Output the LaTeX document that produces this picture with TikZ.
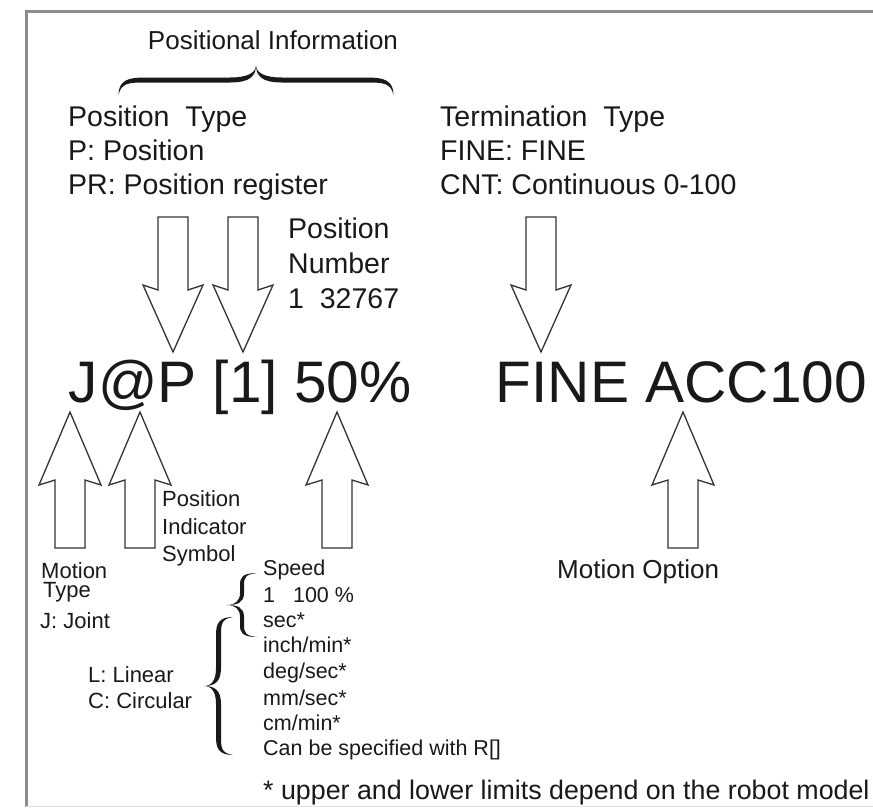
\documentclass[tikz,border=0pt]{standalone}
\usepackage{fontspec}
\setmainfont{Liberation Sans}
% calligraphic brace, tip pointing left in local coords; #1 scope options, #2 width, #3 height, #4 thickness, #5 hook length
\newcommand{\calbrace}[5]{%
\begin{scope}[#1]
\pgfmathsetmacro\bw{#2/2}\pgfmathsetmacro\bh{#3/2}\pgfmathsetmacro\bt{#4/2}\pgfmathsetmacro\bk{#5}
\fill[black!90] (\bw,-\bh) .. controls (0,-\bh) and (-\bt,{-\bh+0.4*\bk}) .. (-\bt,{-\bh+\bk})
  -- (-\bt,-\bk) .. controls (-\bt,{-0.3*\bk}) and ({-0.5*\bw},0) .. (-\bw,0)
  .. controls ({-0.5*\bw},0) and (-\bt,{0.3*\bk}) .. (-\bt,\bk)
  -- (-\bt,{\bh-\bk}) .. controls (-\bt,{\bh-0.4*\bk}) and (0,\bh) .. (\bw,\bh)
  .. controls ({0.2*\bw},{\bh-0.1*\bk}) and (\bt,{\bh-0.4*\bk}) .. (\bt,{\bh-\bk})
  -- (\bt,\bk) .. controls (\bt,{0.2*\bk}) and ({-0.3*\bw},0) .. (-\bw,0)
  .. controls ({-0.3*\bw},0) and (\bt,{-0.2*\bk}) .. (\bt,-\bk)
  -- (\bt,{-\bh+\bk}) .. controls (\bt,{-\bh+0.4*\bk}) and ({0.2*\bw},{-\bh+0.1*\bk}) .. (\bw,-\bh) -- cycle;
\end{scope}}
\newcommand{\dnarrow}[1]{\draw[blockarrow] ({#1-15},217) -- ({#1+15},217) -- ({#1+15},290) -- ({#1+30},285) -- (#1,352) -- ({#1-30},285) -- ({#1-15},290) -- cycle;}
\newcommand{\uparrowshape}[1]{\draw[blockarrow] ({#1-15},548) -- ({#1+15},548) -- ({#1+15},480) -- ({#1+31},485) -- (#1,412) -- ({#1-31},485) -- ({#1-15},480) -- cycle;}
\tikzset{
  blockarrow/.style={draw=black!80, line width=1.3pt, line join=miter},
  txt/.style={anchor=base west, inner sep=0pt, text=black!90},
  big/.style={txt, font=\fontsize{58.6pt}{60pt}\selectfont},
  mid/.style={txt, font=\fontsize{28.5pt}{30pt}\selectfont},
  lab/.style={txt, font=\fontsize{26pt}{28pt}\selectfont},
  foottxt/.style={txt, font=\fontsize{26.8pt}{28pt}\selectfont},
  small/.style={txt, font=\fontsize{22pt}{24pt}\selectfont},
  tiny/.style={txt, font=\fontsize{21.5pt}{23pt}\selectfont},
}
\begin{document}
\begin{tikzpicture}[x=1pt, y=-1pt]
\useasboundingbox (0,0) rectangle (873,807);
% frame
\draw[black!45, line width=3pt] (26,807) -- (26,11) -- (873,11);
\draw[black!12, line width=1pt] (26,806) -- (873,806);
% top brace
\node[lab, anchor=base] (posinfo) at (273,49) {Positional Information};
\calbrace{shift={(256,80)}, rotate=-90}{30}{275}{5}{26}
% top texts
\node[mid] (ptype) at (68,126) {Position\ \ Type};
\node[mid] (pp) at (68,160) {P: Position};
\node[mid] (ppr) at (68,194) {PR: Position register};
\node[mid] (ttype) at (440,126) {Termination\ \ Type};
\node[mid] (tfine) at (440,160) {FINE: FINE};
\node[mid] (tcnt) at (440,194) {CNT: Continuous 0-100};
\node[mid] (pn1) at (288,238) {Position};
\node[mid] (pn2) at (288,273) {Number};
\node[mid] (pn3) at (288,308) {1\ \ 32767};
% down arrows
\dnarrow{173}
\dnarrow{243}
\dnarrow{541}
% main instruction
\node[big] (main1) at (68.5,402) {J@P [1] 50\%};
\node[big] (main2) at (495.5,402) {FINE ACC100};
% up arrows
\uparrowshape{70}
\uparrowshape{140}
\uparrowshape{337}
\uparrowshape{683}
% lower labels
\node[small] (pis1) at (162,506) {Position};
\node[small] (pis2) at (162,534) {Indicator};
\node[small] (pis3) at (162,561) {Symbol};
\node[small] (mt1) at (41,578) {Motion};
\node[small] (mt2) at (43,597) {Type};
\node[small] (jj) at (40,628) {J: Joint};
\node[small] (lin) at (88,682) {L: Linear};
\node[small] (circ) at (88,708) {C: Circular};
\node[lab] (motopt) at (557,578) {Motion Option};
% speed list
\node[tiny] (sp1) at (263,575) {Speed};
\node[tiny] (sp2) at (263,602) {1\ \ \ 100 \%};
\node[tiny] (sp3) at (263,627) {sec*};
\node[tiny] (sp4) at (263,652) {inch/min*};
\node[tiny] (sp5) at (263,678) {deg/sec*};
\node[tiny] (sp6) at (263,705) {mm/sec*};
\node[tiny] (sp7) at (263,730) {cm/min*};
\node[tiny] (sp8) at (263,755) {Can be specified with R[]};
\node[foottxt] (foot) at (263,799) {* upper and lower limits depend on the robot model};
% speed braces
\calbrace{shift={(242,605)}}{30}{64}{4}{12}
\calbrace{shift={(218.5,686)}}{29}{138}{5}{18}
\end{tikzpicture}
\end{document}
